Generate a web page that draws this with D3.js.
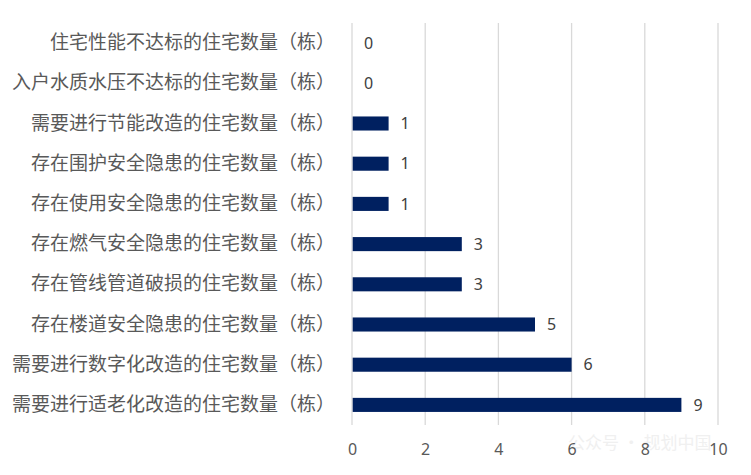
<!DOCTYPE html>
<html><head><meta charset="utf-8">
<script src="https://cdn.jsdelivr.net/npm/d3@7/dist/d3.min.js"></script>
<style>body{margin:0;background:#fff;}svg{display:block;}</style>
</head><body>
<svg id="c" width="751" height="475"></svg>
<script>
const categories = [
  "住宅性能不达标的住宅数量（栋）",
  "入户水质水压不达标的住宅数量（栋）",
  "需要进行节能改造的住宅数量（栋）",
  "存在围护安全隐患的住宅数量（栋）",
  "存在使用安全隐患的住宅数量（栋）",
  "存在燃气安全隐患的住宅数量（栋）",
  "存在管线管道破损的住宅数量（栋）",
  "存在楼道安全隐患的住宅数量（栋）",
  "需要进行数字化改造的住宅数量（栋）",
  "需要进行适老化改造的住宅数量（栋）"
];
const values = [0, 0, 1, 1, 1, 3, 3, 5, 6, 9];
const xTicks = [0, 2, 4, 6, 8, 10];

(function () {
const svg = d3.select("#c");
const pL = 352, pR = 718, pT = 23, pB = 425;
const x = d3.scaleLinear().domain([0, 10]).range([pL, pR]);
const y = d3.scaleBand().domain(categories).range([pT, pB]).paddingInner(0.65).paddingOuter(0.325);

// gridlines
svg.append("g").selectAll("line").data(xTicks).join("line")
  .attr("x1", d => x(d)).attr("x2", d => x(d))
  .attr("y1", pT).attr("y2", pB)
  .attr("stroke", "#d9d9d9").attr("stroke-width", 1.3);

// faint watermark (behind axis labels)
svg.append("text").attr("x", 568).attr("y", 449)
  .attr("fill", "#f0f0f0").attr("font-size", 17)
  .attr("font-family", "'Noto Sans CJK SC', sans-serif")
  .text("公众号 · 规划中国");

// x axis labels
const xAxis = d3.axisBottom(x).tickValues(xTicks).tickSize(0).tickPadding(0);
const gx = svg.append("g").attr("transform", `translate(0,${pB + 19})`).call(xAxis);
gx.select(".domain").remove();
gx.selectAll("text").attr("fill", "#595959").attr("font-size", 16)
  .attr("font-family", "'Noto Sans', 'Open Sans', sans-serif");

// y axis labels
const yAxis = d3.axisLeft(y).tickSize(0).tickPadding(0);
const gy = svg.append("g").attr("transform", `translate(335,0)`).call(yAxis);
gy.select(".domain").remove();
gy.selectAll("text").attr("fill", "#595959").attr("font-size", 19)
  .attr("font-family", "'Noto Sans CJK SC', sans-serif");

// bars
svg.append("g").selectAll("rect").data(values).join("rect")
  .attr("x", x(0) + 0.7)
  .attr("y", (d, i) => y(categories[i]))
  .attr("width", d => Math.max(0, x(d) - x(0) - 0.7))
  .attr("height", y.bandwidth())
  .attr("fill", "#002060")
  .style("display", d => d > 0 ? null : "none");

// value labels
svg.append("g").selectAll("text").data(values).join("text")
  .attr("x", d => x(d) + 12)
  .attr("y", (d, i) => y(categories[i]) + y.bandwidth() / 2)
  .attr("dy", "0.35em")
  .attr("fill", "#404040").attr("font-size", 16)
  .attr("font-family", "'Noto Sans', 'Open Sans', sans-serif")
  .text(d => d);
})();
</script>
</body></html>
